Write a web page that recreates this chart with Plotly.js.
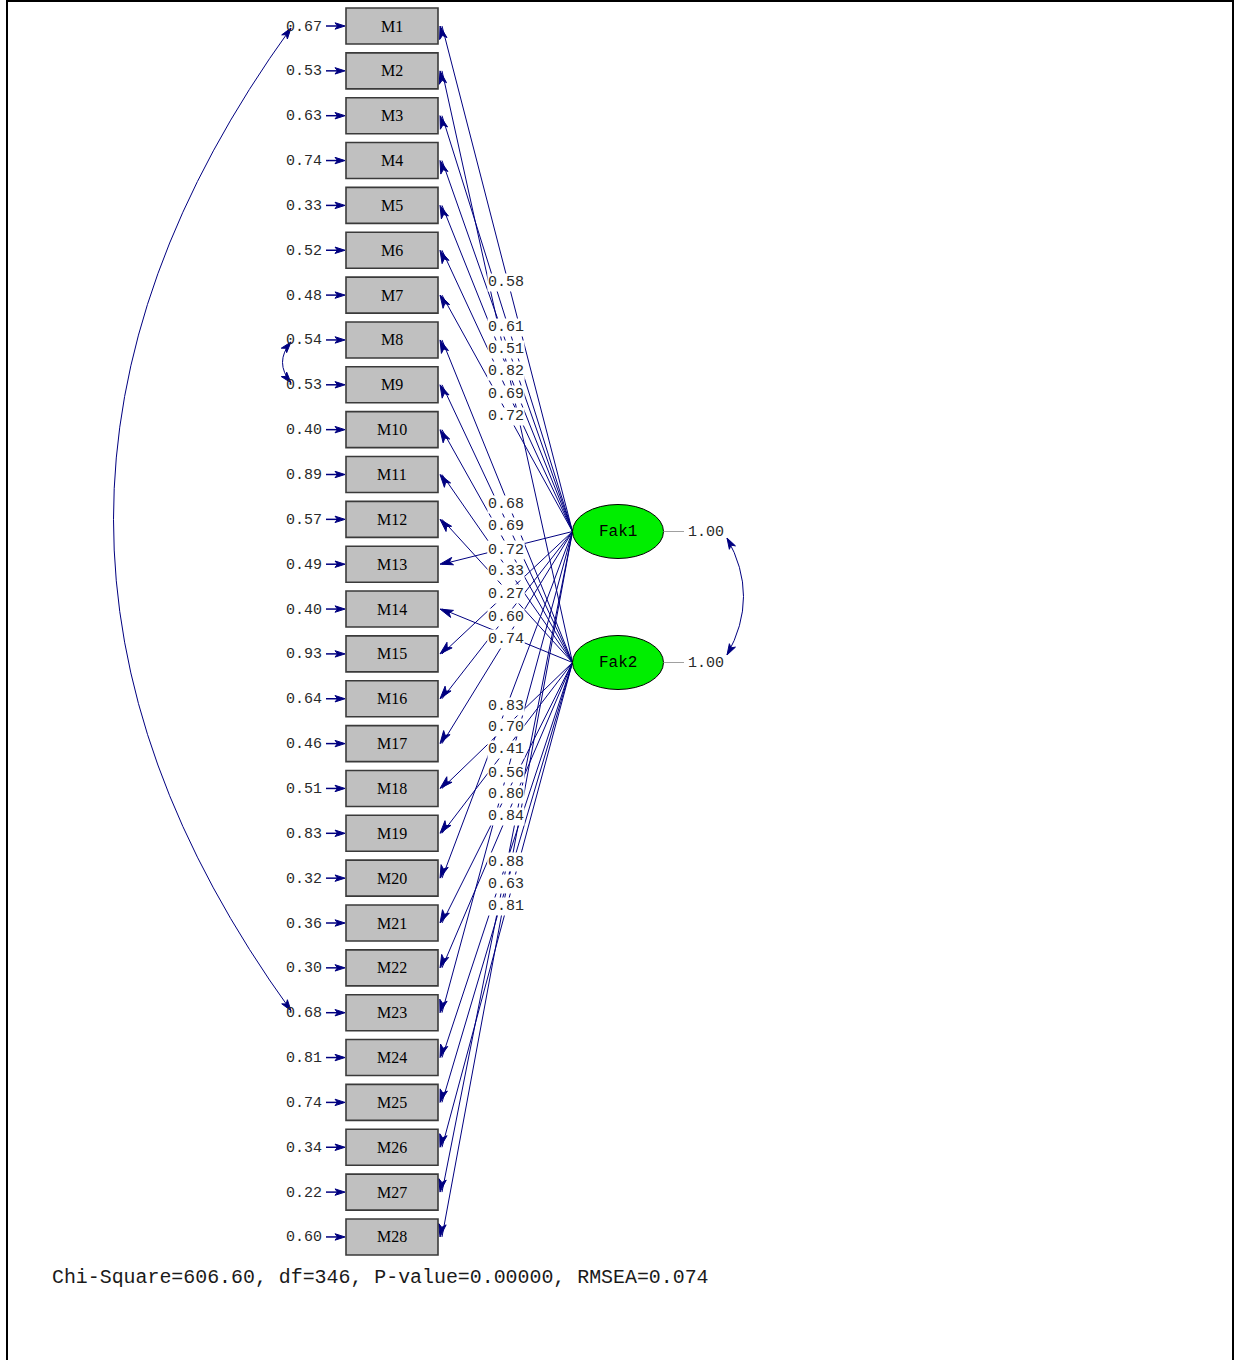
<!DOCTYPE html>
<html><head><meta charset="utf-8">
<script src="https://cdn.plot.ly/plotly-3.0.1.min.js"></script>
<style>html,body{margin:0;padding:0;background:#fff;overflow:hidden}#chart{width:1236px;height:1360px}</style>
</head><body><div id="chart"></div>
<script>
// ---------------- data ----------------
const items = ['M1','M2','M3','M4','M5','M6','M7','M8','M9','M10','M11','M12','M13','M14',
               'M15','M16','M17','M18','M19','M20','M21','M22','M23','M24','M25','M26','M27','M28'];
const errorVariances = [0.67,0.53,0.63,0.74,0.33,0.52,0.48,0.54,0.53,0.40,0.89,0.57,0.49,0.40,
                        0.93,0.64,0.46,0.51,0.83,0.32,0.36,0.30,0.68,0.81,0.74,0.34,0.22,0.60];
const itemFactor = ['Fak1','Fak2','Fak1','Fak1','Fak1','Fak1','Fak1','Fak2','Fak2','Fak2','Fak2','Fak2','Fak1','Fak2',
                    'Fak1','Fak1','Fak1','Fak2','Fak2','Fak1','Fak2','Fak2','Fak1','Fak2','Fak2','Fak2','Fak1','Fak1'];
const loadings = [0.58,0.69,0.61,0.51,0.82,0.69,0.72,0.68,0.69,0.77,0.33,0.66,0.72,0.77,
                  0.27,0.60,0.74,0.70,0.41,0.83,0.80,0.84,0.56,0.44,0.51,0.81,0.88,0.63];
const factors = ['Fak1','Fak2'];
const factorVariances = [1.00,1.00];
const errorCovariances = [['M1','M23'],['M8','M9']];
const chiSquare = '606.60', dfValue = '346', pValue = '0.00000', rmsea = '0.074';

// ---------------- geometry (layout only) ----------------
const W = 1236, H = 1360;
const NAVY = '#000080';
const boxL = 346, boxR = 438, boxHalf = 18, firstY = 26, stepY = 44.85;
const itemY = i => firstY + i * stepY;
const facCX = 618, facRX = 45.5, facRY = 27;
const facY = {Fak1: 531.5, Fak2: 662.5};
const facLeft = facCX - facRX;

const shapes = [];
const annotations = [];

function line(x0,y0,x1,y1,color,width){
  shapes.push({type:'line',xref:'x',yref:'y',x0,y0,x1,y1,line:{color,width}});
}
function head(tx,ty,sx,sy,len,hw,color){
  const L = Math.hypot(tx-sx,ty-sy);
  const ux=(tx-sx)/L, uy=(ty-sy)/L;
  const bx=tx-ux*len, by=ty-uy*len;
  const px=-uy, py=ux;
  const p = `M${tx},${ty} L${bx+px*hw},${by+py*hw} L${bx+ux*len*0.25},${by+uy*len*0.25} L${bx-px*hw},${by-py*hw} Z`;
  shapes.push({type:'path',xref:'x',yref:'y',path:p,fillcolor:color,line:{color,width:1}});
}
function text(t,x,y,opts){
  annotations.push(Object.assign({xref:'x',yref:'y',x,y,text:t,showarrow:false,
    font:{family:'Liberation Mono, DejaVu Sans Mono, monospace',size:15,color:'#2a2a2a'}},opts||{}));
}

// frame
line(7,0,7,H,'#000',2);
line(1233,0,1233,H,'#000',2);
line(7,1,1233,1,'#000',2);

// loading paths (drawn first)
items.forEach((m,i)=>{
  const yF = facY[itemFactor[i]], yi = itemY(i);
  line(facLeft,yF,boxR+4,yi,NAVY,1);
  head(boxR+2,yi,facLeft,yF,13,3.8,NAVY);
});

// boxes
items.forEach((m,i)=>{
  const yi = itemY(i);
  shapes.push({type:'rect',xref:'x',yref:'y',x0:boxL,x1:boxR,y0:yi-boxHalf,y1:yi+boxHalf,
    fillcolor:'#c0c0c0',line:{color:'#3a3a3a',width:1.6}});
  text(m,(boxL+boxR)/2,yi,{font:{family:'Liberation Serif, Times New Roman, serif',size:16,color:'#000'}});
  // error arrow
  line(326,yi,338,yi,NAVY,1.5);
  head(boxL-1,yi,326,yi,10,3.2,NAVY);
  text(errorVariances[i].toFixed(2),324,yi+1,{xanchor:'right'});
});

// loading labels: second factor first so first factor's label lies on top
const T = 0.4975;
['Fak2','Fak1'].forEach(f=>{
  items.forEach((m,i)=>{
    if(itemFactor[i]!==f) return;
    const yF = facY[f], yi = itemY(i);
    const x = 506;
    const y = yF + T*(yi-yF) + 2.5;
    text(loadings[i].toFixed(2),x,y,{bgcolor:'#ffffff',borderpad:0});
  });
});

// factors
factors.forEach((f,k)=>{
  const y = facY[f];
  shapes.push({type:'circle',xref:'x',yref:'y',x0:facCX-facRX,x1:facCX+facRX,y0:y-facRY,y1:y+facRY,
    fillcolor:'#00ee00',line:{color:'#000',width:1}});
  text(f,facCX,y,{font:{family:'Liberation Mono, monospace',size:16,color:'#000'}});
  line(facCX+facRX,y,684,y,'#a0a0a0',1);
  text(factorVariances[k].toFixed(2),686,y+1,{xanchor:'left'});
});

function arc(x0,y0,cx,cy,x1,y1){
  shapes.push({type:'path',xref:'x',yref:'y',path:`M${x0},${y0} Q${cx},${cy} ${x1},${y1}`,line:{color:NAVY,width:1}});
  head(x0,y0,cx,cy,11,3.5,NAVY);
  head(x1,y1,cx,cy,11,3.5,NAVY);
}
// factor covariance arc
arc(727,538,760,596.5,727,655);
// error covariances (left side)
errorCovariances.forEach(([a,b])=>{
  const ia = items.indexOf(a), ib = items.indexOf(b);
  const ya = itemY(ia)+2, yb = itemY(ib)-2;
  const span = yb-ya;
  const cx = span > 200 ? -64 : 274;
  arc(291,ya,cx,(ya+yb)/2,291,yb);
});

// footer
text(`Chi-Square=${chiSquare}, df=${dfValue}, P-value=${pValue}, RMSEA=${rmsea}`,50,1277,
  {xanchor:'left',font:{family:'Liberation Mono, monospace',size:19.9,color:'#1a1a1a'}});

const layout = {
  width:W,height:H,margin:{l:0,r:0,t:0,b:0},
  paper_bgcolor:'#fff',plot_bgcolor:'#fff',showlegend:false,
  xaxis:{range:[0,W],visible:false,fixedrange:true},
  yaxis:{range:[H,0],visible:false,fixedrange:true},
  shapes,annotations
};
Plotly.newPlot('chart',[{type:'scatter',x:[],y:[],mode:'markers',hoverinfo:'skip'}],layout,{staticPlot:true,displayModeBar:false});
</script></body></html>
